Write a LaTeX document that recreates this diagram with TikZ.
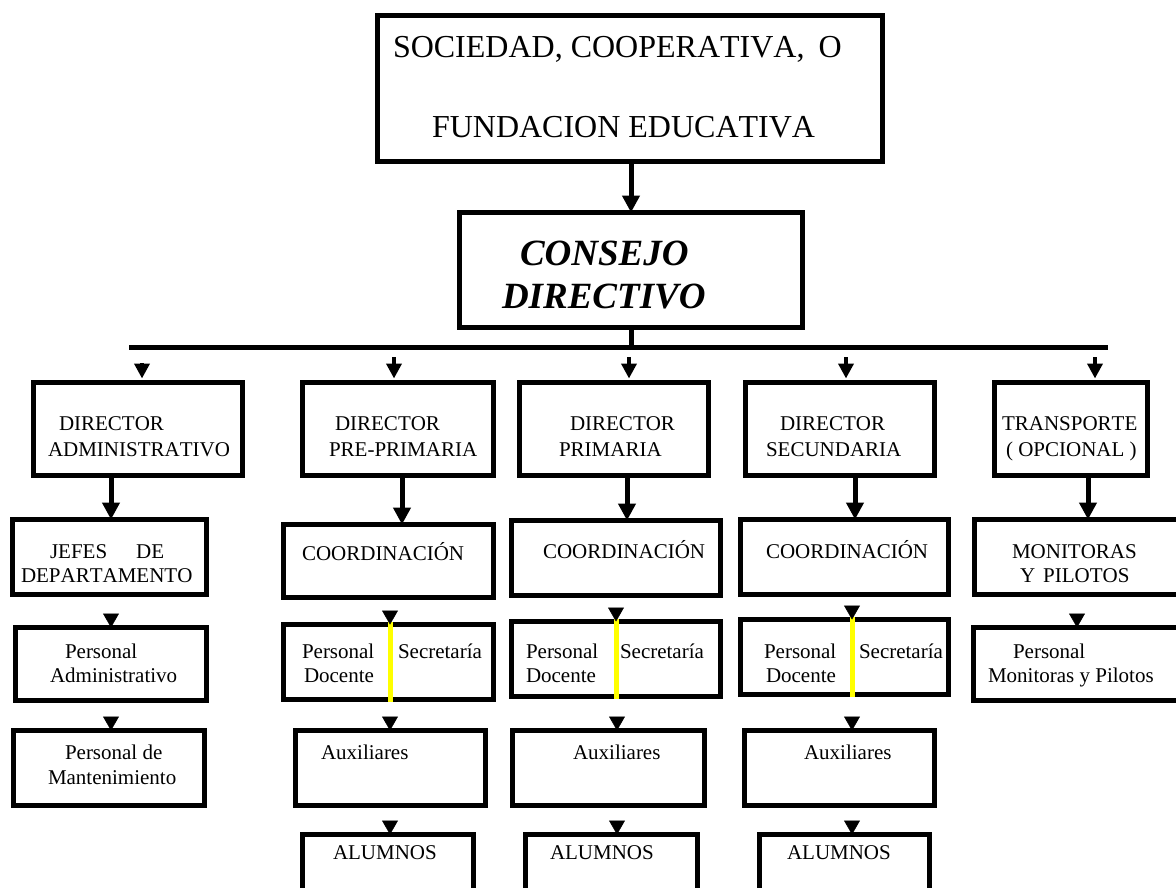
\documentclass[tikz,border=0pt]{standalone}
\usepackage{fontspec}
\setmainfont{Liberation Serif}[Kerning=Off]
\usetikzlibrary{arrows.meta}
\definecolor{yel}{RGB}{255,255,0}
\newcommand{\bx}[5]{\node[box, minimum width={#4-#2-5}, minimum height={#5-#3-5}] (#1) at ({#2+2.5},{#3+2.5}) {};}
\begin{document}
\begin{tikzpicture}[x=1pt,y=-1pt,
 box/.style={draw=black, line width=5pt, rectangle, inner sep=0pt, outer sep=0pt, anchor=north west},
 txt/.style={anchor=base west, inner sep=0pt, outer sep=0pt, font=\fontsize{21}{25}\selectfont},
 big/.style={anchor=base west, inner sep=0pt, outer sep=0pt, font=\fontsize{32}{38}\selectfont},
 cons/.style={anchor=base west, inner sep=0pt, outer sep=0pt, font=\fontsize{37}{44}\selectfont\bfseries\itshape},
 arr/.style={line width=5pt, -{Triangle[width=17pt,length=17pt]}},
 sarr/.style={line width=4pt, -{Triangle[width=15pt,length=15pt]}, shorten <=10pt, shorten >=4pt},
 tip/.style={draw=white, line width=0.5pt, shorten <=3pt, -{Triangle[width=16pt,length=14pt,color=black,fill=black]}},
 bus/.style={line width=5pt},
 yelline/.style={draw=yel, line width=5pt, shorten <=-2.5pt, shorten >=-2.5pt}]
\fill[white] (0,0) rectangle (1176,887);
\useasboundingbox (0,0) rectangle (1176,887);
\clip (0,0) rectangle (1176,887);

% boxes
\bx{top}{375}{13}{885}{164}
\bx{consejo}{457}{210}{805}{330}
\bx{d1}{31}{380}{245}{478}
\bx{d2}{300}{380}{496}{478}
\bx{d3}{517}{380}{711}{478}
\bx{d4}{743}{380}{937}{478}
\bx{d5}{992}{380}{1150}{478}
\bx{jefes}{10}{517}{209}{597}
\bx{c1}{281}{522}{496}{600}
\bx{c2}{509}{518}{723}{598}
\bx{c3}{738}{517}{951}{597}
\bx{mon}{972}{517}{1190}{597}
\bx{padm}{13}{625}{209}{703}
\bx{ps1}{281}{622}{496}{702}
\bx{ps2}{509}{619}{723}{699}
\bx{ps3}{738}{617}{951}{697}
\bx{pmon}{971}{625}{1190}{703}
\bx{mant}{11}{728}{207}{808}
\bx{aux1}{293}{728}{488}{808}
\bx{aux2}{510}{728}{707}{808}
\bx{aux3}{742}{728}{937}{808}
\bx{al1}{300}{832}{476}{900}
\bx{al2}{523}{832}{700}{900}
\bx{al3}{757}{832}{932}{900}

% texts
\node[big] (t1) at (393,57) {SOCIEDAD, COOPERATIVA,\hspace{14pt}O};
\node[big] (t2) at (432,137) {FUNDACION EDUCATIVA};
\node[cons] (k1) at (520,265) {CONSEJO};
\node[cons] (k2) at (502,308) {DIRECTIVO};

\node[txt] (d1a) at (59,430) {DIRECTOR};
\node[txt] (d1b) at (48,456) {ADMINISTRATIVO};
\node[txt] (d2a) at (335,430) {DIRECTOR};
\node[txt] (d2b) at (329,456) {PRE-PRIMARIA};
\node[txt] (d3a) at (570,430) {DIRECTOR};
\node[txt] (d3b) at (559,456) {PRIMARIA};
\node[txt] (d4a) at (780,430) {DIRECTOR};
\node[txt] (d4b) at (766,456) {SECUNDARIA};
\node[txt] (d5a) at (1002,430) {TRANSPORTE};
\node[txt] (d5b) at (1006,456) {( OPCIONAL )};

\node[txt] (ja) at (50,558) {JEFES\hspace{29pt}DE};
\node[txt] (jb) at (21,582) {DEPARTAMENTO};
\node[txt] (c1a) at (302,560) {COORDINACIÓN};
\node[txt] (c2a) at (543,558) {COORDINACIÓN};
\node[txt] (c3a) at (766,558) {COORDINACIÓN};
\node[txt] (ma) at (1012,558) {MONITORAS};
\node[txt] (mb) at (1020,582) {Y\hspace{8pt}PILOTOS};

\node[txt] (pa1) at (65,658) {Personal};
\node[txt] (pa2) at (50,682) {Administrativo};
\node[txt] (p1a) at (302,658) {Personal};
\node[txt] (p1b) at (304,682) {Docente};
\node[txt] (p1c) at (398,658) {Secretaría};
\node[txt] (p2a) at (526,658) {Personal};
\node[txt] (p2b) at (526,682) {Docente};
\node[txt] (p2c) at (620,658) {Secretaría};
\node[txt] (p3a) at (764,658) {Personal};
\node[txt] (p3b) at (766,682) {Docente};
\node[txt] (p3c) at (859,658) {Secretaría};
\node[txt] (pma) at (1013,658) {Personal};
\node[txt] (pmb) at (988,682) {Monitoras y Pilotos};

\node[txt] (mt1) at (65,759) {Personal de};
\node[txt] (mt2) at (48,784) {Mantenimiento};
\node[txt] (x1) at (321,759) {Auxiliares};
\node[txt] (x2) at (573,759) {Auxiliares};
\node[txt] (x3) at (804,759) {Auxiliares};
\node[txt] (a1) at (333,859) {ALUMNOS};
\node[txt] (a2) at (550,859) {ALUMNOS};
\node[txt] (a3) at (787,859) {ALUMNOS};

% yellow dividers
\coordinate (y1) at (390,0);
\coordinate (y2) at (616,0);
\coordinate (y3) at (852,0);
\draw[yelline] (ps1.north -| y1) -- (ps1.south -| y1);
\draw[yelline] (ps2.north -| y2) -- (ps2.south -| y2);
\draw[yelline] (ps3.north -| y3) -- (ps3.south -| y3);

% top connectors
\draw[arr] (top.south -| consejo.north) -- (consejo.north);
\coordinate (busL) at (129,347);
\coordinate (busR) at (1108,347);
\draw[bus] (consejo.south) -- (consejo.south |- busL);
\draw[bus] (busL) -- (busR);

\coordinate (b1) at (142,347);
\coordinate (b2) at (394,347);
\coordinate (b3) at (629,347);
\coordinate (b4) at (846,347);
\coordinate (b5) at (1095,347);
\draw[sarr, shorten <=16pt] (b1) -- (b1 |- d1.north);
\draw[sarr] (b2) -- (b2 |- d2.north);
\draw[sarr] (b3) -- (b3 |- d3.north);
\draw[sarr] (b4) -- (b4 |- d4.north);
\draw[sarr] (b5) -- (b5 |- d5.north);

% director -> second row
\coordinate (s1) at ([xshift=-27pt]d1.south);
\coordinate (s2) at ([xshift=4pt]d2.south);
\coordinate (s3) at ([xshift=13pt]d3.south);
\coordinate (s4) at ([xshift=15pt]d4.south);
\coordinate (s5) at ([xshift=17pt]d5.south);
\draw[arr] (s1) -- (s1 |- jefes.north);
\draw[arr] (s2) -- (s2 |- c1.north);
\draw[arr] (s3) -- (s3 |- c2.north);
\draw[arr] (s4) -- (s4 |- c3.north);
\draw[arr] (s5) -- (s5 |- mon.north);

% arrowheads between lower rows
\coordinate (xa) at (111,0);
\coordinate (xm) at (1077,0);
\coordinate (xq) at (617,0);
\draw[tip] (jefes.south -| xa) -- (padm.north -| xa);
\draw[tip] (padm.south -| xa) -- (mant.north -| xa);
\draw[tip] (c1.south -| y1) -- (ps1.north -| y1);
\draw[tip] (ps1.south -| y1) -- (aux1.north -| y1);
\draw[tip] (aux1.south -| y1) -- (al1.north -| y1);
\draw[tip] (c2.south -| y2) -- (ps2.north -| y2);
\draw[tip] (ps2.south -| xq) -- (aux2.north -| xq);
\draw[tip] (aux2.south -| xq) -- (al2.north -| xq);
\draw[tip] (c3.south -| y3) -- (ps3.north -| y3);
\draw[tip] (ps3.south -| y3) -- (aux3.north -| y3);
\draw[tip] (aux3.south -| y3) -- (al3.north -| y3);
\draw[tip] (mon.south -| xm) -- (pmon.north -| xm);
\end{tikzpicture}
\end{document}
